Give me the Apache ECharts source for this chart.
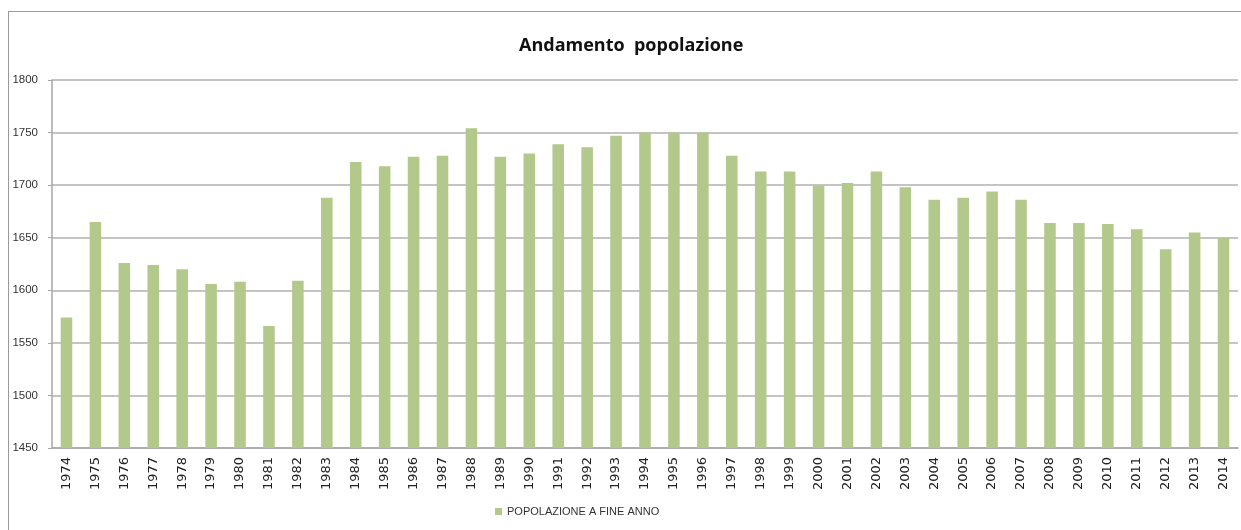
<!DOCTYPE html>
<html><head><meta charset="utf-8">
<script src="https://cdn.jsdelivr.net/npm/echarts@6/dist/echarts.min.js"></script>
<style>html,body{margin:0;padding:0;background:#fff}#c{width:1241px;height:530px}
#frame{position:absolute;left:8px;top:11px;width:1240px;height:530px;border-left:1px solid #9a9a9a;border-top:1px solid #9a9a9a;pointer-events:none}</style>
</head><body><div id="c"></div><div id="frame"></div>
<script>
const years = ['1974','1975','1976','1977','1978','1979','1980','1981','1982','1983','1984','1985','1986','1987','1988','1989','1990','1991','1992','1993','1994','1995','1996','1997','1998','1999','2000','2001','2002','2003','2004','2005','2006','2007','2008','2009','2010','2011','2012','2013','2014'];
const popolazione = [1574,1665,1626,1624,1620,1606,1608,1566,1609,1688,1722,1718,1727,1728,1754,1727,1730,1739,1736,1747,1750,1750,1750,1728,1713,1713,1700,1702,1713,1698,1686,1688,1694,1686,1664,1664,1663,1658,1639,1655,1650];
const yTicks = [1450,1500,1550,1600,1650,1700,1750,1800];
const chart = echarts.init(document.getElementById('c'), null, {renderer:'canvas'});
chart.setOption({
  animation:false,
  title:{text:'Andamento  popolazione', left:514, top:32, textStyle:{fontFamily:'Open Sans, sans-serif', fontWeight:'bold', fontSize:18, color:'#111'}},
  grid:{left:52, right:3, top:80, bottom:82},
  legend:{bottom:8, left:490, itemWidth:7, itemHeight:7, itemGap:4, icon:'rect', textStyle:{fontFamily:'Liberation Sans, sans-serif', fontSize:11, color:'#333'}},
  xAxis:{type:'category', data:years, axisTick:{show:false}, axisLine:{lineStyle:{color:'#a6a6a6', width:1.5}},
    axisLabel:{rotate:90, interval:0, fontFamily:'DejaVu Sans, sans-serif', fontSize:13, color:'#222', margin:9}},
  yAxis:{type:'value', min:yTicks[0], max:yTicks[yTicks.length-1], interval:50,
    axisLine:{show:true, lineStyle:{color:'#a6a6a6', width:1.5}},
    axisTick:{show:true, length:4, lineStyle:{color:'#a6a6a6'}},
    splitLine:{lineStyle:{color:'#b0b0b0', width:1.5}},
    axisLabel:{formatter:v=>String(v), fontFamily:'Liberation Sans, sans-serif', fontSize:11.5, color:'#333', margin:14}},
  series:[{name:'POPOLAZIONE A FINE ANNO', type:'bar', data:popolazione, barWidth:'40%', itemStyle:{color:'#b3c98c'}}]
});
</script></body></html>
